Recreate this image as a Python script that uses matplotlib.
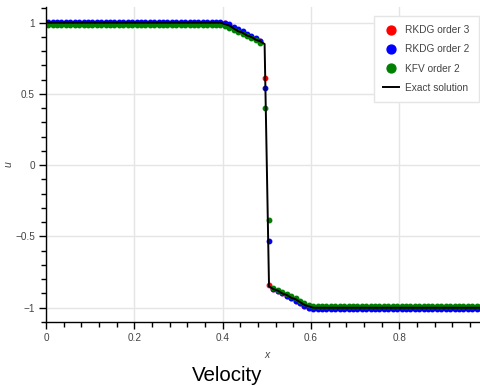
import numpy as np
import matplotlib
matplotlib.use("Agg")
from matplotlib import pyplot as plt

# cell centres of a 100-cell grid on [0, 1]
x = np.arange(100) * 0.01 + 0.005

# velocity profiles (plateau runs + rarefaction/shock cells)
u_exact = ([1.0] * 40
           + [0.99, 0.98, 0.96, 0.94, 0.93, 0.91, 0.90, 0.88, 0.87, 0.85]
           + [-0.85, -0.87, -0.88, -0.90, -0.91, -0.93, -0.94, -0.96, -0.98, -0.99]
           + [-1.0] * 40)
u_rkdg3 = ([1.0] * 40
           + [1.0, 0.985, 0.965, 0.95, 0.93, 0.915, 0.90, 0.885, 0.87, 0.61]
           + [-0.84, -0.865, -0.88, -0.90, -0.915, -0.93, -0.95, -0.965, -0.985, -1.0]
           + [-1.0] * 40)
u_rkdg2 = ([1.006] * 40
           + [1.0, 0.99, 0.97, 0.955, 0.94, 0.92, 0.905, 0.89, 0.87, 0.54]
           + [-0.53, -0.87, -0.885, -0.90, -0.92, -0.935, -0.95, -0.97, -0.99, -1.005]
           + [-1.006] * 40)
u_kfv2 = ([0.985] * 40
          + [0.975, 0.965, 0.95, 0.935, 0.92, 0.905, 0.89, 0.875, 0.86, 0.40]
          + [-0.385, -0.86, -0.875, -0.89, -0.905, -0.92, -0.935, -0.95, -0.965, -0.98]
          + [-0.99] * 40)

x_ticks = [0, 0.2, 0.4, 0.6, 0.8]
x_tick_labels = ["0", "0.2", "0.4", "0.6", "0.8"]
y_ticks = [-1, -0.5, 0, 0.5, 1]
y_tick_labels = ["\u22121", "\u22120.5", "0", "0.5", "1"]

plt.rcParams['font.family'] = ['Liberation Sans', 'DejaVu Sans']

fig = plt.figure(figsize=(4.81, 3.86), dpi=100)
ax = fig.add_axes([46 / 481, 64 / 386, 435 / 481, 315 / 386])

ms = 3.2
ax.plot(x, u_rkdg3, 'o', color='red', ms=ms, mec='red', label='RKDG order 3')
ax.plot(x, u_rkdg2, 'o', color='blue', ms=ms, mec='blue', label='RKDG order 2')
ax.plot(x, u_kfv2, 'o', color='green', ms=ms, mec='green', label='KFV order 2')
ax.plot(x, u_exact, '-', color='black', lw=1.4, label='Exact solution')

ax.set_xlim(0, 0.985)
ax.set_ylim(-1.1, 1.11)

ax.set_xticks(x_ticks)
ax.set_xticklabels(x_tick_labels)
ax.set_yticks(y_ticks)
ax.set_yticklabels(y_tick_labels)
ax.set_xticks(np.arange(0, 1.0, 0.04), minor=True)
ax.set_yticks(np.arange(-1.1, 1.11, 0.1), minor=True)

ax.tick_params(which='major', direction='out', length=5, width=1, color='black',
               labelsize=7.2, labelcolor='#444444', pad=3)
ax.tick_params(which='minor', direction='out', length=3.5, width=1, color='black')

ax.grid(True, which='major', color='#e5e5e5', lw=1)
ax.set_axisbelow(True)
for side in ['top', 'right']:
    ax.spines[side].set_visible(False)
for side in ['left', 'bottom']:
    ax.spines[side].set_color('black')
    ax.spines[side].set_linewidth(1)

ax.set_xlabel('x', style='italic', fontsize=7.5, color='#444444')
ax.set_ylabel('u', style='italic', fontsize=7.5, color='#444444')
ax.xaxis.set_label_coords(0.508, -0.089)
ax.yaxis.set_label_coords(-0.074, 0.5)

leg = ax.legend(loc='upper right', bbox_to_anchor=(0.995, 0.971), borderaxespad=0,
                fontsize=7.3, markerscale=2.0, handlelength=1.6, handletextpad=0.6,
                labelspacing=0.9, borderpad=0.9, fancybox=False, framealpha=1)
leg.get_frame().set_edgecolor('#e5e5e5')
leg.get_frame().set_linewidth(1)
for t in leg.get_texts():
    t.set_color('#444444')

fig.text(0.472, 0.028, 'Velocity', ha='center', va='center', fontsize=14.8)

fig.savefig('out.png', dpi=100)
